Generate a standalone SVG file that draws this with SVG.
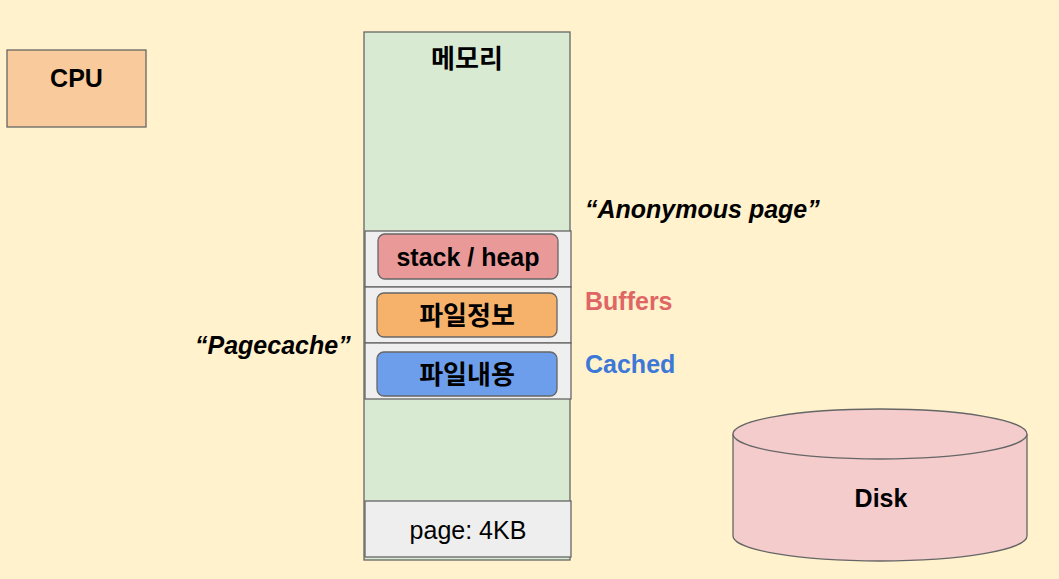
<svg xmlns="http://www.w3.org/2000/svg" width="1059" height="579" viewBox="0 0 1059 579">
<style>
.s{stroke:#666666;stroke-width:1.3}
.t{font-family:"Liberation Sans","Noto Sans CJK KR",Arial,sans-serif;font-weight:bold;font-size:25px;fill:#000;text-anchor:middle}
.k{font-family:"Noto Sans CJK KR","Liberation Sans",sans-serif;font-weight:bold;font-size:26px;fill:#000;text-anchor:middle}
.l{font-family:"Liberation Sans",Arial,sans-serif;font-weight:bold;font-size:25px}
</style>
<rect width="1059" height="579" fill="#fff2cc"/>
<g id="cpu">
<rect x="7" y="50" width="139" height="77" fill="#f9cb9c" class="s"/>
<text x="76.5" y="87" class="t">CPU</text>
</g>
<g id="memory">
<rect x="364" y="32" width="206" height="528" fill="#d9ead3" class="s"/>
<text x="467" y="68" class="k">메모리</text>
</g>
<g id="band-anon"><rect x="365" y="231" width="206" height="56" fill="#efefef" class="s"/></g>
<g id="band-buffers"><rect x="365" y="287" width="206" height="56" fill="#efefef" class="s"/></g>
<g id="band-cached"><rect x="365" y="343" width="206" height="56" fill="#efefef" class="s"/></g>
<g id="stack-heap">
<rect x="378" y="234" width="180" height="45" rx="7" fill="#ea9999" class="s"/>
<text x="468" y="266" class="t">stack / heap</text>
</g>
<g id="file-info">
<rect x="377" y="293" width="180" height="44" rx="7" fill="#f6b26b" class="s"/>
<text x="467" y="325" class="k">파일정보</text>
</g>
<g id="file-content">
<rect x="377" y="352" width="180" height="44" rx="7" fill="#6d9eeb" class="s"/>
<text x="467" y="384" class="k">파일내용</text>
</g>
<g id="page">
<rect x="365" y="501" width="206" height="56" fill="#eeeeee" class="s"/>
<text x="468" y="539" style="font-family:'Liberation Sans',Arial,sans-serif;font-size:25px;text-anchor:middle">page: 4KB</text>
</g>
<g id="disk">
<path d="M733 434 L733 536 A147 25 0 0 0 1027 536 L1027 434" fill="#f4cccc" class="s"/>
<ellipse cx="880" cy="434" rx="147" ry="25" fill="#f4cccc" class="s"/>
<text x="881" y="507" class="t">Disk</text>
</g>
<g id="labels">
<text x="585" y="218" class="l" font-style="italic">“Anonymous page”</text>
<text x="585" y="310" class="l" fill="#e06666">Buffers</text>
<text x="585" y="373" class="l" fill="#3c78d8">Cached</text>
<text x="195" y="354" class="l" font-style="italic">“Pagecache”</text>
</g>
<g id="connectors"></g>
</svg>
